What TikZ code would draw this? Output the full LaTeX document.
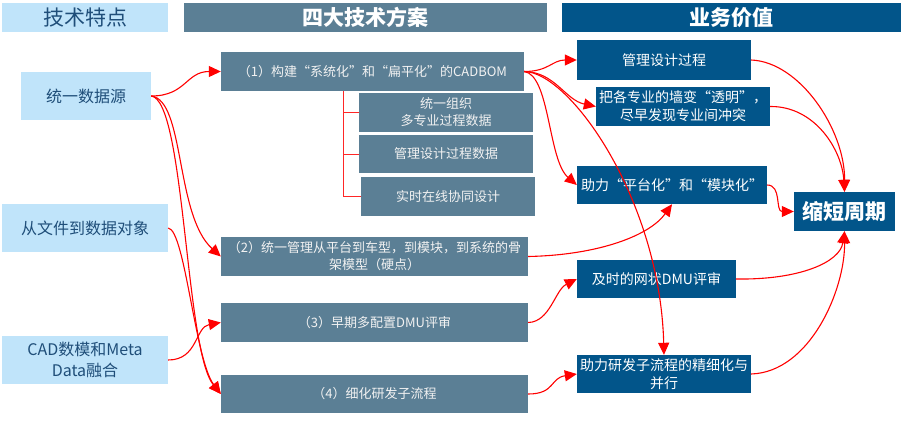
\documentclass[tikz,border=0pt]{standalone}
\usepackage{fontspec}
\setmainfont{Noto Sans CJK SC}
\usetikzlibrary{arrows.meta}
\definecolor{lb}{RGB}{192,228,250}
\definecolor{lbt}{RGB}{31,78,121}
\definecolor{sl}{RGB}{91,127,149}
\definecolor{db}{RGB}{2,85,138}
\definecolor{mt}{RGB}{242,242,242}
\tikzset{
 hdr/.style={minimum height=29pt, inner sep=0pt, font=\fontsize{21}{25}\selectfont},
 lbox/.style={fill=lb, text=lbt, minimum height=48pt, minimum width=166pt, inner sep=0pt, align=center, font=\fontsize{16}{21}\selectfont},
 mbox/.style={fill=sl, text=mt, inner sep=0pt, align=center, font=\fontsize{13}{17}\selectfont},
 rbox/.style={fill=db, text=white, inner sep=0pt, align=center, font=\fontsize{14}{18}\selectfont},
 arr/.style={red, line width=1.1pt, -{Triangle[length=12pt,width=11pt]}},
 brk/.style={red!85, line width=1pt},
}
\begin{document}
\begin{tikzpicture}[x=1pt,y=-1pt]
\useasboundingbox (0,0) rectangle (904,428);
% headers
\node[hdr, fill=lb, text=lbt, minimum width=166pt] (H1) at (85,17.5) {技术特点};
\node[hdr, fill=sl, text=white, minimum width=363pt, font=\fontsize{21}{25}\selectfont\bfseries] (H2) at (365.5,17.5) {四大技术方案};
\node[hdr, fill=db, text=white, minimum width=339pt, font=\fontsize{21}{25}\selectfont\bfseries] (H3) at (731.5,17.5) {业务价值};
% left
\node[lbox, minimum width=130pt] (L1) at (86,96) {统一数据源};
\node[lbox] (L2) at (85,228) {从文件到数据对象};
\node[lbox] (L3) at (85,360) {CAD数模和Meta\\Data融合};
% middle
\node[mbox, minimum width=303pt, minimum height=39pt] (M1) at (372.5,71.5) {（1）构建“系统化”和“扁平化”的CADBOM};
\node[mbox, minimum width=174pt, minimum height=39pt] (S1) at (446,112.5) {统一组织\\多专业过程数据};
\node[mbox, minimum width=174pt, minimum height=38pt] (S2) at (446,154) {管理设计过程数据};
\node[mbox, minimum width=174pt, minimum height=39pt] (S3) at (448,196.5) {实时在线协同设计};
\node[mbox, minimum width=307pt, minimum height=39pt] (M2) at (374.5,256.5) {（2）统一管理从平台到车型，到模块，到系统的骨\\架模型（硬点）};
\node[mbox, minimum width=307pt, minimum height=39pt] (M3) at (374.5,322.5) {（3）早期多配置DMU评审};
\node[mbox, minimum width=307pt, minimum height=38pt] (M4) at (374.5,394) {（4）细化研发子流程};
% right
\node[rbox, minimum width=174pt, minimum height=40pt] (R1) at (664,60) {管理设计过程};
\node[rbox, minimum width=174pt, minimum height=39pt] (R2) at (683,106.5) {把各专业的墙变“透明”，\\尽早发现专业间冲突};
\node[rbox, minimum width=190pt, minimum height=38pt] (R3) at (672,185) {助力“平台化”和“模块化”};
\node[rbox, minimum width=159pt, minimum height=38pt] (R4) at (656.5,279) {及时的网状DMU评审};
\node[rbox, minimum width=174pt, minimum height=38pt] (R5) at (664,374) {助力研发子流程的精细化与\\并行};
\node[rbox, minimum width=101pt, minimum height=39pt, font=\fontsize{21}{25}\selectfont\bfseries] (G) at (844.5,211.5) {缩短周期};
% bracket
\coordinate (bt) at (343,91);
\draw[brk] (bt) |- (S3.west);
\draw[brk] (bt |- S1.west) -- (S1.west);
\draw[brk] (bt |- S2.west) -- (S2.west);
% left arrows
\draw[arr] (L1.east) .. controls (186,96) and (186,71.5) .. (M1.west);
\draw[arr] (L1.east) .. controls (185,100) and (175,215) .. (M2.west);
\draw[arr] (L1.east) .. controls (185,100) and (185,350) .. (M4.west);
\draw[arr] (L2.east) .. controls (185,230) and (195,360) .. (M4.west);
\draw[arr] (L3.east) .. controls (198,360) and (195,327) .. (M3.west);
% middle to right
\draw[arr] (M1.east) .. controls (549,71.5) and (552,60) .. (R1.west);
\draw[arr] (M1.east) .. controls (555,72) and (565,100) .. (R2.west);
\draw[arr] (M1.east) .. controls (550,75) and (548,160) .. (R3.west);
\draw[arr] (M1.east) .. controls (570,72) and (660,200) .. (R5.north);
\draw[arr] (M2.east) .. controls (600,255) and (650,235) .. (R3.south);
\draw[arr] (M3.east) .. controls (550,322) and (555,290) .. (R4.west);
\draw[arr] (M4.east) .. controls (555,394) and (550,378) .. (R5.west);
% right to goal
\draw[arr] (R1.east) .. controls (800,62) and (845,130) .. (G.north);
\draw[arr] (R2.east) .. controls (815,106) and (842,150) .. (G.north);
\draw[arr] (R3.east) .. controls (782,185) and (775,211.5) .. (G.west);
\draw[arr] (R4.east) .. controls (800,280) and (840,262) .. (G.south);
\draw[arr] (R5.east) .. controls (810,372) and (845,290) .. (G.south);
\end{tikzpicture}
\end{document}
